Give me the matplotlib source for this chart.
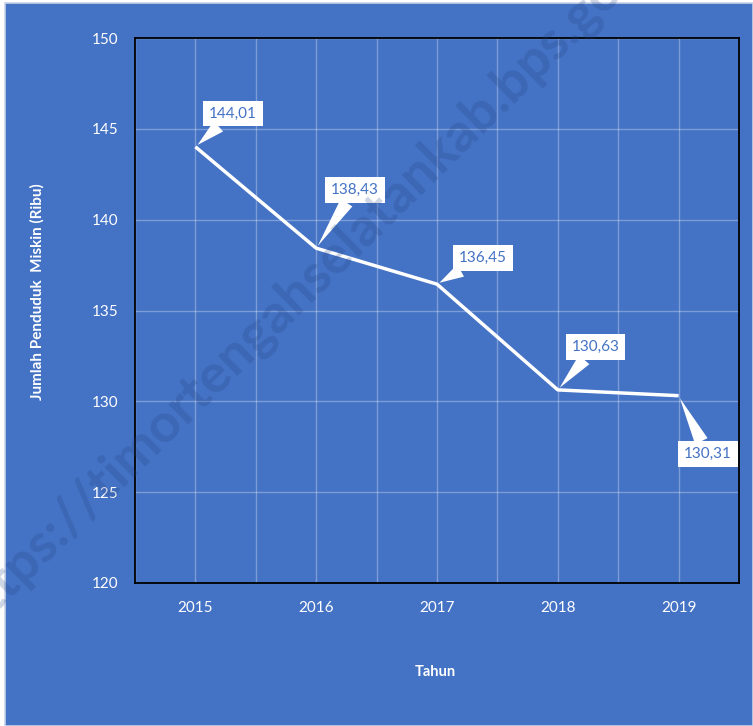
import matplotlib
matplotlib.use("Agg")
import matplotlib.pyplot as plt
from matplotlib.patches import Rectangle
from matplotlib.ticker import MultipleLocator

years = ["2015", "2016", "2017", "2018", "2019"]
values = [144.01, 138.43, 136.45, 130.63, 130.31]
labels = ["144,01", "138,43", "136,45", "130,63", "130,31"]
# label offsets (points) relative to the data point
offsets = [(27, 24), (28, 42), (33, 19), (27, 31), (21, -42)]

BG = "#4472C4"
plt.rcParams['font.family'] = ['Lato', 'DejaVu Sans']

fig = plt.figure(figsize=(7.53, 7.26), dpi=100, facecolor="white")
fig.add_artist(Rectangle((5 / 753, 0), 748 / 753, 723 / 726, transform=fig.transFigure,
                         facecolor=BG, edgecolor="#c8d2e6", linewidth=1.2, zorder=-10))

ax = fig.add_axes([135 / 753, 143 / 726, 604 / 753, 545 / 726])
ax.set_facecolor(BG)

x = list(range(len(years)))
ax.plot(x, values, color="white", linewidth=2.5, solid_capstyle="butt", zorder=3)

ax.set_xlim(-0.5, len(years) - 0.5)
ax.set_ylim(120, 150)
ax.set_xticks(x)
ax.set_xticklabels(years)
ax.yaxis.set_major_locator(MultipleLocator(5))
ax.xaxis.set_minor_locator(MultipleLocator(0.5))

ax.grid(True, which="major", axis="y", color="white", alpha=0.3, linewidth=1)
ax.grid(True, which="both", axis="x", color="white", alpha=0.3, linewidth=1)
ax.tick_params(which="both", length=0)
ax.tick_params(axis="x", colors="white", labelsize=11, pad=13)
ax.tick_params(axis="y", colors="white", labelsize=11, pad=12)
for s in ax.spines.values():
    s.set_color("black")
    s.set_linewidth(1.3)

ax.set_xlabel("Tahun", color="white", fontsize=10.5, fontweight="bold")
ax.xaxis.set_label_coords(0.497, -0.15)
ax.set_ylabel("Jumlah Penduduk  Miskin (Ribu)", color="white", fontsize=11, fontweight="bold")
ax.yaxis.set_label_coords(-0.149, 0.534)

for xi, v, lab, off in zip(x, values, labels, offsets):
    ax.annotate(lab, xy=(xi, v), xytext=off, textcoords="offset points",
                ha="center", va="center", color=BG, fontsize=11, zorder=5,
                bbox=dict(boxstyle="square,pad=0.38", fc="white", ec="none"),
                arrowprops=dict(arrowstyle="wedge,tail_width=1.0", fc="white", ec="none",
                                mutation_scale=10, shrinkA=0, shrinkB=2))

fig.text(308 / 753, 1 - 282 / 726, "https://timortengahselatankab.bps.go.id",
         rotation=44.5, ha="center", va="center", fontsize=39, fontweight="bold",
         color="#1f3f80", alpha=0.22, zorder=10, rotation_mode="anchor")

fig.savefig("out.png", dpi=100, facecolor=fig.get_facecolor())
